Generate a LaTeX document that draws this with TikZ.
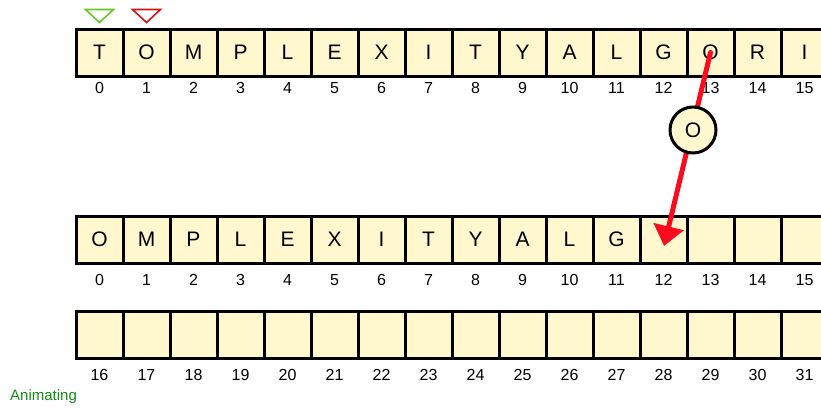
\documentclass[tikz,border=0pt]{standalone}
\usepackage{fontspec}
\setmainfont{Liberation Sans}
\definecolor{cellfill}{RGB}{255,248,206}
\definecolor{movered}{RGB}{250,12,30}
\definecolor{markred}{RGB}{214,20,20}
\definecolor{markgreen}{RGB}{100,200,40}
\definecolor{animgreen}{RGB}{20,140,20}
\usetikzlibrary{arrows.meta,positioning,calc}
\tikzset{
  cell/.style={draw=black, fill=cellfill, line width=3pt, minimum size=47pt, inner sep=0pt, font=\fontsize{21}{21}\selectfont},
  idx/.style={inner sep=0pt, font=\fontsize{16}{16}\selectfont},
  marker/.style={line width=1.6pt}
}

\begin{document}
\begin{tikzpicture}[x=1pt, y=-1pt]
  \useasboundingbox (0,0) rectangle (821,407);
  \clip (0,0) rectangle (821,407);

  %% Source array
  \foreach \ch [count=\i from 0] in {T,O,M,P,L,E,X,I,T,Y,A,L,G,O,R,I} {
    \node[cell] (t\i) at (99.5+47*\i,52.5) {\ch};
    \node[idx] at (99.5+47*\i,88) {\i};
  }

  %% Target array, first half
  \foreach \ch [count=\i from 0] in {O,M,P,L,E,X,I,T,Y,A,L,G,{},{},{},{}} {
    \node[cell] (m\i) at (99.5+47*\i,239.5) {\ch};
    \node[idx] at (99.5+47*\i,280) {\i};
  }

  %% Target array, second half
  \foreach \i [count=\k from 0] in {16,...,31} {
    \node[cell] (b\i) at (99.5+47*\k,334.5) {};
    \node[idx] at (99.5+47*\k,375) {\i};
  }

  %% Markers
  \draw[marker, markgreen] ($(t0.north)+(-14,-18)$) -- ++(28,0) -- ($(t0.north)+(0,-5)$) -- cycle;
  \draw[marker, markred]   ($(t1.north)+(-14,-18)$) -- ++(28,0) -- ($(t1.north)+(0,-5)$) -- cycle;

  %% Moving element
  \coordinate (dest) at (664,246);
  \draw[-{Triangle[length=20pt, width=30pt]}, line width=5pt, movered, line cap=round] (t13.center) -- (dest);
  \node[draw=black, fill=cellfill, circle, line width=3pt, minimum size=46pt, inner sep=0pt, font=\fontsize{21}{21}\selectfont] (moving) at (693,130) {O};

  %% Status
  \node[anchor=west, inner sep=0pt, text=animgreen, font=\fontsize{15}{15}\selectfont] (status) at (10,397) {Animating};
\end{tikzpicture}
\end{document}
